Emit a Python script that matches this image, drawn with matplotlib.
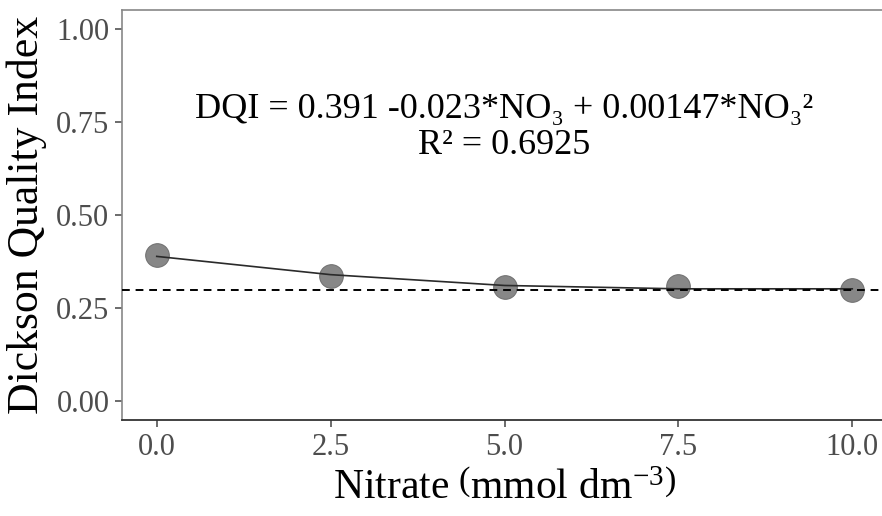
import matplotlib
matplotlib.use("Agg")
import matplotlib.pyplot as plt

# nitrate levels and observed DQI
nitrate = [0.0, 2.5, 5.0, 7.5, 10.0]
dqi = [0.394, 0.336, 0.308, 0.310, 0.300]
# fitted curve read at each level
dqi_fit = [0.389, 0.340, 0.311, 0.302, 0.302]
reference_level = 0.30

x_ticks = [0.0, 2.5, 5.0, 7.5, 10.0]
x_tick_labels = ["0.0", "2.5", "5.0", "7.5", "10.0"]
y_ticks = [0.00, 0.25, 0.50, 0.75, 1.00]
y_tick_labels = ["0.00", "0.25", "0.50", "0.75", "1.00"]

equation = "DQI = 0.391 -0.023*NO\u2083 + 0.00147*NO\u2083\u00b2"
r_squared = "R\u00b2 = 0.6925"

serif = ["Liberation Serif", "DejaVu Serif"]
plt.rcParams["font.family"] = serif
plt.rcParams["mathtext.fontset"] = "custom"
plt.rcParams["mathtext.rm"] = "Liberation Serif"

fig = plt.figure(figsize=(8.82, 5.16), dpi=100)
ax = fig.add_axes([0.1383, 0.186, 0.8674, 0.7946])

ax.scatter(nitrate, dqi, s=290, color="#878787", edgecolors="#6e6e6e",
           linewidths=0.7, zorder=2)
ax.plot(nitrate, dqi_fit, color="#2a2a2a", lw=1.2, zorder=3)
ax.axhline(reference_level, color="black", lw=1.4, ls=(0, (4, 3)), zorder=3)

ax.text(5.0, 0.759, equation, ha="center", va="baseline", fontsize=26,
        family=serif)
ax.text(5.0, 0.663, r_squared, ha="center", va="baseline", fontsize=26,
        family=serif)

ax.set_xlim(-0.5, 10.5)
ax.set_ylim(-0.05, 1.05)
ax.set_xticks(x_ticks)
ax.set_xticklabels(x_tick_labels)
ax.set_yticks(y_ticks)
ax.set_yticklabels(y_tick_labels)

ax.tick_params(axis="both", direction="out", length=5, width=1.1,
               color="#444444", labelcolor="#4d4d4d", labelsize=22, pad=4)

for side in ["top", "left", "right"]:
    ax.spines[side].set_color("#888888")
    ax.spines[side].set_linewidth(1.2)
ax.spines["bottom"].set_color("#333333")
ax.spines["bottom"].set_linewidth(1.3)

ax.set_xlabel(r"Nitrate $\left(\mathrm{mmol\;dm^{-3}}\right)$", fontsize=30,
              labelpad=6)
ax.set_ylabel("Dickson Quality Index", fontsize=31.5, labelpad=7)

fig.savefig("out.png", dpi=100)
